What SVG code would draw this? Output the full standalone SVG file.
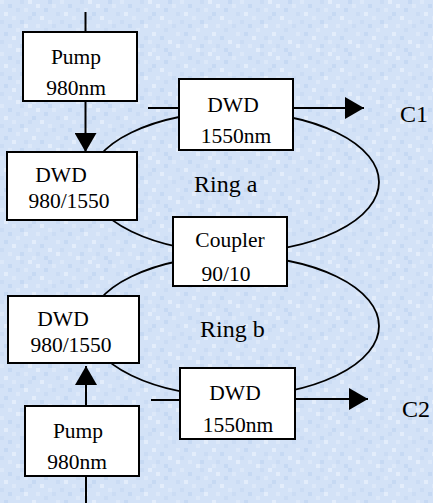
<svg xmlns="http://www.w3.org/2000/svg" width="433" height="503" viewBox="0 0 433 503">
<style>
.box{fill:#fff;stroke:#000;stroke-width:2}
.t{font-size:21.5px;fill:#000;text-anchor:middle}
.lbl{font-size:24px;fill:#000}
.ln{fill:none;stroke:#000;stroke-width:2}
.ring{fill:none;stroke:#000;stroke-width:1.8}
.a{fill:#dce8f9}.b{fill:#e3edfb}.c{fill:#cbdcf4}.d{fill:#c6d9f3}
</style>
<defs>
<pattern id="bg" width="60" height="52" patternUnits="userSpaceOnUse">
<rect width="60" height="52" fill="#d3e2f7"/>
<rect class="a" x="0" y="0" width="4" height="4"/><rect class="c" x="20" y="0" width="4" height="4"/><rect class="b" x="28" y="0" width="4" height="4"/><rect class="d" x="48" y="0" width="4" height="4"/>
<rect class="d" x="8" y="4" width="4" height="4"/><rect class="b" x="36" y="4" width="4" height="4"/><rect class="a" x="52" y="4" width="4" height="4"/>
<rect class="c" x="16" y="8" width="4" height="4"/><rect class="a" x="24" y="8" width="4" height="4"/><rect class="d" x="44" y="8" width="4" height="4"/>
<rect class="b" x="4" y="12" width="4" height="4"/><rect class="d" x="32" y="12" width="4" height="4"/><rect class="c" x="56" y="12" width="4" height="4"/>
<rect class="a" x="12" y="16" width="4" height="4"/><rect class="b" x="40" y="16" width="4" height="4"/><rect class="c" x="28" y="16" width="4" height="4"/>
<rect class="c" x="0" y="20" width="4" height="4"/><rect class="d" x="20" y="20" width="4" height="4"/><rect class="a" x="48" y="20" width="4" height="4"/>
<rect class="b" x="24" y="24" width="4" height="4"/><rect class="d" x="8" y="24" width="4" height="4"/><rect class="c" x="52" y="24" width="4" height="4"/><rect class="a" x="36" y="24" width="4" height="4"/>
<rect class="a" x="16" y="28" width="4" height="4"/><rect class="c" x="44" y="28" width="4" height="4"/>
<rect class="d" x="4" y="32" width="4" height="4"/><rect class="b" x="32" y="32" width="4" height="4"/><rect class="a" x="56" y="32" width="4" height="4"/>
<rect class="b" x="12" y="36" width="4" height="4"/><rect class="c" x="24" y="36" width="4" height="4"/><rect class="d" x="40" y="36" width="4" height="4"/>
<rect class="c" x="0" y="40" width="4" height="4"/><rect class="a" x="28" y="40" width="4" height="4"/><rect class="b" x="48" y="40" width="4" height="4"/>
<rect class="a" x="8" y="44" width="4" height="4"/><rect class="d" x="20" y="44" width="4" height="4"/><rect class="c" x="36" y="44" width="4" height="4"/><rect class="b" x="56" y="44" width="4" height="4"/>
<rect class="b" x="16" y="48" width="4" height="4"/><rect class="d" x="44" y="48" width="4" height="4"/><rect class="a" x="32" y="48" width="4" height="4"/>
</pattern>
<marker id="ah" markerWidth="19" markerHeight="22" refX="19" refY="11" orient="auto" markerUnits="userSpaceOnUse">
<path d="M0,0 L19,11 L0,22 z" fill="#000"/>
</marker>
</defs>
<rect width="433" height="503" fill="url(#bg)"/>

<g id="connectors">
<ellipse class="ring" cx="234" cy="182" rx="145" ry="70"/>
<ellipse class="ring" cx="234" cy="326" rx="145" ry="70"/>
<line class="ln" x1="85.5" y1="12" x2="85.5" y2="32"/>
<line class="ln" x1="85.5" y1="101" x2="85.5" y2="152" marker-end="url(#ah)"/>
<line class="ln" x1="148" y1="108" x2="179" y2="108"/>
<line class="ln" x1="293" y1="108" x2="364" y2="108" marker-end="url(#ah)"/>
<line class="ln" x1="151" y1="400" x2="180" y2="400"/>
<line class="ln" x1="295" y1="399" x2="368" y2="399" marker-end="url(#ah)"/>
<line class="ln" x1="86" y1="406" x2="86" y2="366" marker-end="url(#ah)"/>
<line class="ln" x1="86" y1="476" x2="86" y2="503"/>
</g>

<g font-family="'Liberation Serif', 'Times New Roman', serif">
<g id="pump-top">
<rect class="box" x="23" y="32" width="114" height="69"/>
<text class="t" x="76" y="64">Pump</text>
<text class="t" x="76" y="95">980nm</text>
</g>
<g id="dwd-980-top">
<rect class="box" x="7" y="152" width="130" height="68"/>
<text class="t" x="61" y="182">DWD</text>
<text class="t" x="69" y="208">980/1550</text>
</g>
<g id="dwd-1550-top">
<rect class="box" x="179" y="79" width="114" height="71"/>
<text class="t" x="233" y="112">DWD</text>
<text class="t" x="236" y="143">1550nm</text>
</g>
<g id="coupler">
<rect class="box" x="173" y="217" width="114" height="69"/>
<text class="t" x="230" y="247">Coupler</text>
<text class="t" x="226" y="281">90/10</text>
</g>
<g id="dwd-980-bottom">
<rect class="box" x="8" y="296" width="131" height="67"/>
<text class="t" x="63" y="326">DWD</text>
<text class="t" x="71" y="352">980/1550</text>
</g>
<g id="dwd-1550-bottom">
<rect class="box" x="180" y="368" width="115" height="71"/>
<text class="t" x="235" y="400">DWD</text>
<text class="t" x="238" y="432">1550nm</text>
</g>
<g id="pump-bottom">
<rect class="box" x="25" y="406" width="114" height="70"/>
<text class="t" x="78" y="438">Pump</text>
<text class="t" x="77" y="469">980nm</text>
</g>
<g id="labels">
<text class="lbl" x="194" y="192">Ring a</text>
<text class="lbl" x="200" y="337">Ring b</text>
<text class="lbl" x="400" y="122">C1</text>
<text class="lbl" x="402" y="417">C2</text>
</g>
</g>
</svg>
